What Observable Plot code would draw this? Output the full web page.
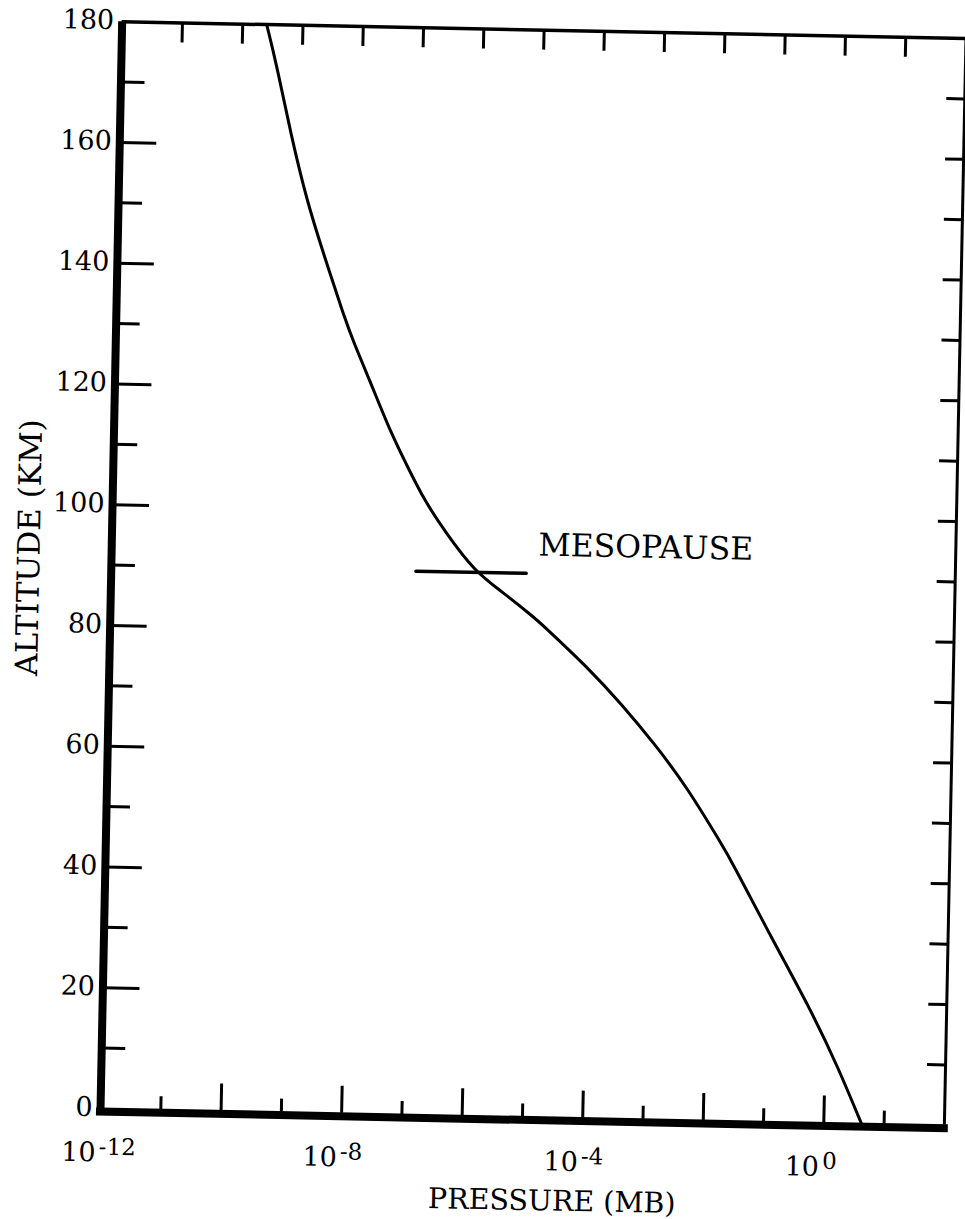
<!DOCTYPE html>
<html>
<head>
<meta charset="utf-8">
<script src="https://cdn.jsdelivr.net/npm/d3@7"></script>
<script src="https://cdn.jsdelivr.net/npm/@observablehq/plot@0.6"></script>
<style>
  html, body { margin: 0; padding: 0; background: #fff; overflow: hidden; width: 965px; height: 1219px; }
  #chart svg { display: block; }
</style>
</head>
<body>
<div id="chart"></div>
<script>
// Altitude (km) vs pressure (mb)
const altitude = [180, 173, 162, 150.9, 142.2, 131.8, 127.4, 120.9, 112.7, 106.1, 101.8, 96.8, 90.2, 87.0, 82.7, 81.7, 74.6, 68.7, 62.2, 55.1, 45.9, 43.1, 30.5, 18.5, 9.2, 0];
const pressure = [2.50e-10, 3.85e-10, 6.80e-10, 1.33e-9, 2.62e-9, 6.05e-9, 9.06e-9, 1.77e-8, 3.94e-8, 8.73e-8, 1.48e-7, 3.25e-7, 1.05e-6, 2.97e-6, 1.08e-5, 1.41e-5, 8.67e-5, 3.18e-4, 1.17e-3, 4.20e-3, 1.61e-2, 2.40e-2, 0.117, 0.571, 1.66, 4.21];

// Mesopause marker
const mesoPressure = [1.13e-7, 7.62e-6];
const mesoAltitude = 90;
const mesoLabel = "MESOPAUSE";
const mesoLabelPressure = 1.19e-5;
const mesoLabelAltitude = 93;

// Axes
const xDomain = [1e-12, 1e2];
const yDomain = [0, 180];
const xLabelValues = [1e-12, 1e-8, 1e-4, 1e0];
const xLabelBase = "10";
const xLabelExponents = ["-12", "-8", "-4", "0"];
const xLongTicks = [1e-10, 1e-8, 1e-6, 1e-4, 1e-2, 1e0];
const xShortTicks = [1e-11, 1e-9, 1e-7, 1e-5, 1e-3, 1e-1, 1e1];
const xTopTicks = [1e-11, 1e-10, 1e-9, 1e-8, 1e-7, 1e-6, 1e-5, 1e-4, 1e-3, 1e-2, 1e-1, 1e0, 1e1];
const yLabels = [0, 20, 40, 60, 80, 100, 120, 140, 160, 180];
const yMajorTicks = [20, 40, 60, 80, 100, 120, 140, 160];
const yMinorTicks = [10, 30, 50, 70, 90, 110, 130, 150, 170];
const yRightTicks = [10, 20, 30, 40, 50, 60, 70, 80, 90, 100, 110, 120, 130, 140, 150, 160, 170];
const xTitle = "PRESSURE (MB)";
const yTitle = "ALTITUDE (KM)";

const curve = altitude.map((a, i) => ({alt: a, p: pressure[i]}));
const meso = mesoPressure.map(p => ({p, alt: mesoAltitude}));

const W = 965, H = 1219;
const mL = 100, mR = 21, mT = 21, mB = 111;
const fw = W - mL - mR;  // frame width
const fh = H - mT - mB;  // frame height

const svg = Plot.plot({
  width: W,
  height: H,
  marginLeft: mL,
  marginRight: mR,
  marginTop: mT,
  marginBottom: mB,
  x: {type: "log", domain: xDomain, axis: null},
  y: {domain: yDomain, axis: null},
  style: {fontFamily: "'DejaVu Serif', serif", background: "#fff", overflow: "visible", color: "#000"},
  marks: [
    // frame
    Plot.ruleX([xDomain[1]], {y1: yDomain[0], y2: yDomain[1], stroke: "#000", strokeWidth: 3}),
    Plot.ruleY([yDomain[1]], {x1: xDomain[0], x2: xDomain[1], stroke: "#000", strokeWidth: 3.5}),
    Plot.ruleX([xDomain[0]], {y1: yDomain[0], y2: yDomain[1], stroke: "#000", strokeWidth: 8}),
    Plot.ruleY([yDomain[0]], {x1: xDomain[0], x2: xDomain[1], dy: 3, stroke: "#000", strokeWidth: 8, strokeLinecap: "square"}),
    // ticks
    Plot.tickY(yMajorTicks, {y: d => d, insetRight: fw - 37, stroke: "#000", strokeWidth: 3}),
    Plot.tickY(yMinorTicks, {y: d => d, insetRight: fw - 24, stroke: "#000", strokeWidth: 3}),
    Plot.tickY(yRightTicks, {y: d => d, insetLeft: fw - 18, stroke: "#000", strokeWidth: 3}),
    Plot.tickX(xLongTicks, {x: d => d, insetTop: fh - 27, stroke: "#000", strokeWidth: 3}),
    Plot.tickX(xShortTicks, {x: d => d, insetTop: fh - 13, stroke: "#000", strokeWidth: 3}),
    Plot.tickX(xTopTicks, {x: d => d, insetBottom: fh - 20, stroke: "#000", strokeWidth: 3}),
    // tick labels
    Plot.text(yLabels, {y: d => d, frameAnchor: "left", text: d => String(d), textAnchor: "end", lineAnchor: "middle", dx: -8, dy: -1, fontSize: 27, fill: "#000"}),
    Plot.text(xLabelValues, {x: d => d, frameAnchor: "bottom", text: () => xLabelBase, textAnchor: "end", lineAnchor: "bottom", dx: -4, dy: 53, fontSize: 27, fill: "#000"}),
    Plot.text(xLabelValues, {x: d => d, frameAnchor: "bottom", text: (d, i) => xLabelExponents[i], textAnchor: "start", lineAnchor: "bottom", dx: -1, dy: 46, fontSize: 23, fill: "#000"}),
    // axis titles
    Plot.text([xTitle], {frameAnchor: "bottom", text: d => d, textAnchor: "middle", lineAnchor: "bottom", dx: 31, dy: 93, fontSize: 28.5, fill: "#000", letterSpacing: "3px"}),
    Plot.text([yTitle], {frameAnchor: "left", text: d => d, rotate: -90, textAnchor: "middle", lineAnchor: "middle", dx: -82, dy: -16, fontSize: 31, fill: "#000", letterSpacing: "1.6px"}),
    // data
    Plot.line(meso, {x: "p", y: "alt", stroke: "#000", strokeWidth: 3.5}),
    Plot.line(curve, {x: "p", y: "alt", curve: "basis", stroke: "#000", strokeWidth: 3}),
    Plot.text([mesoLabel], {x: mesoLabelPressure, y: mesoLabelAltitude, text: d => d, textAnchor: "start", lineAnchor: "bottom", fontSize: 31.5, fill: "#000"})
  ]
});

// the scanned original is tilted slightly clockwise
svg.style.transformOrigin = "100px 1110px";
svg.style.transform = "rotate(1.14deg)";
document.getElementById("chart").appendChild(svg);
</script>
</body>
</html>
